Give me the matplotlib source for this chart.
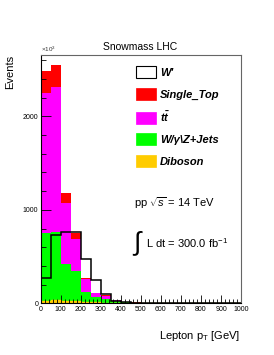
import numpy as np
import matplotlib
matplotlib.use("Agg")
import matplotlib.pyplot as plt
from matplotlib.patches import Patch
from matplotlib.ticker import MultipleLocator

plt.rcParams['font.family'] = ['Liberation Sans', 'DejaVu Sans']
plt.rcParams['mathtext.fontset'] = 'custom'
plt.rcParams['mathtext.rm'] = 'Liberation Sans'
plt.rcParams['mathtext.it'] = 'Liberation Sans:italic'
plt.rcParams['mathtext.bf'] = 'Liberation Sans:italic:bold'

# lepton pT bins, 50 GeV wide
bin_edges = np.arange(0, 1001, 50)

# events per bin (stack order bottom -> top)
diboson    = [30, 32, 28, 22, 15, 10, 6, 4, 2, 1, 1, 0, 0, 0, 0, 0, 0, 0, 0, 0]
wjets      = [719, 727, 392, 327, 109, 55, 44, 21, 10, 5, 3, 2, 1, 1, 0, 0, 0, 0, 0, 0]
ttbar      = [1503, 1551, 656, 342, 133, 40, 30, 10, 5, 2, 1, 1, 0, 0, 0, 0, 0, 0, 0, 0]
single_top = [233, 239, 104, 58, 17, 8, 5, 3, 2, 1, 1, 0, 0, 0, 0, 0, 0, 0, 0, 0]
wprime     = [274, 730, 766, 766, 474, 249, 100, 28, 12, 6, 3, 2, 1, 1, 1, 0, 0, 0, 0, 0]

stack_names = ['Diboson', 'W/\u03b3\\Z+Jets', r'$\mathbf{t\bar{t}}$', 'Single_Top']
stack_colors = ['#ffcc00', '#00ff00', '#ff00ff', '#ff0000']
stack_values = [diboson, wjets, ttbar, single_top]

fig = plt.figure(figsize=(2.74, 3.55), dpi=100)
ax = fig.add_axes([0.148, 0.1456, 0.732, 0.699])

# stacked histograms, drawn from the bottom up
base = np.zeros(len(bin_edges) - 1)
for vals, col in zip(stack_values, stack_colors):
    top = base + np.array(vals, dtype=float)
    ax.stairs(top, bin_edges, baseline=base, fill=True, color=col, linewidth=0)
    base = top

# diboson line along the baseline (ROOT draws it across the full range)
ax.stairs(diboson, bin_edges, baseline=None, color='#ffcc00', linewidth=1.0)

# W' signal as hollow outline
ax.stairs(wprime, bin_edges, color='black', linewidth=1.1)

ax.set_xlim(0, 1000)
ax.set_ylim(0, 2655)

ax.xaxis.set_major_locator(MultipleLocator(100))
ax.xaxis.set_minor_locator(MultipleLocator(20))
ax.yaxis.set_major_locator(MultipleLocator(1000))
ax.yaxis.set_minor_locator(MultipleLocator(200))
ax.tick_params(axis='both', which='both', direction='in', labelsize=5,
               top=False, right=False, width=0.6, colors='black')
ax.tick_params(axis='x', which='major', length=6, pad=2)
ax.tick_params(axis='x', which='minor', length=3)
ax.tick_params(axis='y', which='major', length=7, pad=1.5)
ax.tick_params(axis='y', which='minor', length=3.5)

for side in ['left', 'bottom']:
    ax.spines[side].set_linewidth(0.8)
for side in ['top', 'right']:
    ax.spines[side].set_color('#666666')
    ax.spines[side].set_linewidth(0.8)

fig.text(0.148, 0.848, r'$\times10^{3}$', fontsize=4.5, ha='left', va='bottom', color='#333333')

fig.text(0.511, 0.853, 'Snowmass LHC', fontsize=7.5, ha='center', va='bottom')
fig.text(0.018, 0.845, 'Events', fontsize=8, rotation=90, ha='left', va='top')
fig.text(0.878, 0.035, r'Lepton p$_{\mathrm{T}}$ [GeV]', fontsize=8, ha='right', va='bottom')

# legend
handles = [Patch(facecolor='white', edgecolor='black', linewidth=0.8)]
labels = ["W'"]
for name, col in zip(stack_names[::-1], stack_colors[::-1]):
    handles.append(Patch(facecolor=col, edgecolor=col, linewidth=0.5))
    labels.append(name)
leg = fig.legend(handles, labels, loc='upper left', bbox_to_anchor=(0.497, 0.813),
                 frameon=False, fontsize=8, handlelength=1.75, handleheight=1.3,
                 handletextpad=0.4, labelspacing=0.84, borderpad=0, borderaxespad=0)
for t in leg.get_texts():
    t.set_fontweight('bold')
    t.set_fontstyle('italic')

fig.text(0.49, 0.428, r'pp $\sqrt{s}$ = 14 TeV', fontsize=8, ha='left', va='center')
fig.text(0.482, 0.315, r'$\int$', fontsize=19, ha='left', va='center')
fig.text(0.532, 0.315, r'L dt = 300.0 fb$^{-1}$', fontsize=8, ha='left', va='center')

fig.savefig('out.png', dpi=100)
